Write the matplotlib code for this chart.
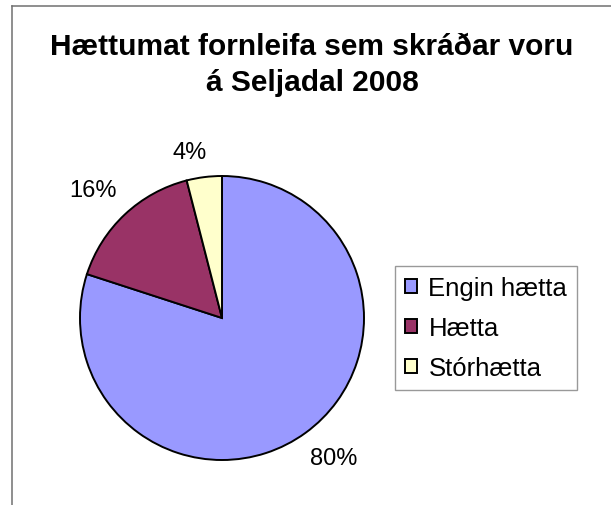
import numpy as np
import matplotlib
matplotlib.use("Agg")
import matplotlib.pyplot as plt
from matplotlib.lines import Line2D

plt.rcParams['font.family'] = ['Liberation Sans', 'DejaVu Sans']

#Data
categories = ["Engin hætta", "Hætta", "Stórhætta"]
shares = [80, 16, 4]
colors = ["#9999FF", "#993366", "#FFFFCC"]
title = "Hættumat fornleifa sem skráðar voru\ná Seljadal 2008"

#label placement (distance in radii, angle nudge in degrees)
label_dist = [1.26, 1.28, 1.19]
label_nudge = [2.7, 2.0, 3.8]

W, H = 611, 506
fig = plt.figure(figsize=(W / 100, H / 100), dpi=100)

#Chart frame (only top and left edges visible in the crop)
fig.add_artist(Line2D([11.5 / W, 1], [1 - 6.5 / H, 1 - 6.5 / H], color="#707070", lw=1.1))
fig.add_artist(Line2D([11.5 / W, 11.5 / W], [0, 1 - 6.5 / H], color="#707070", lw=1.1))

#Pie, centre (222,319) px, radius 142 px
cx, cy, r = 222, 319, 142
ax = fig.add_axes([(cx - r) / W, (H - cy - r) / H, 2 * r / W, 2 * r / H])
wedges, texts = ax.pie(shares, colors=colors, startangle=90, counterclock=False,
                       wedgeprops=dict(edgecolor="black", linewidth=1.4))
ax.set_xlim(-1, 1)
ax.set_ylim(-1, 1)
ax.axis("off")

for w, v, d, n in zip(wedges, shares, label_dist, label_nudge):
    ang = np.deg2rad((w.theta1 + w.theta2) / 2 + n)
    ax.text(d * np.cos(ang), d * np.sin(ang), "%d%%" % v, ha="center", va="center",
            fontsize=17, clip_on=False)

fig.text(312 / W, 1 - 65 / H, title, ha="center", va="center", multialignment="center",
         fontsize=21.5, fontweight="bold", linespacing=1.38)

leg = fig.legend(wedges, categories, loc="upper left",
                 bbox_to_anchor=(395 / W, 1 - 267 / H), borderaxespad=0,
                 fontsize=18.5, frameon=True, fancybox=False, edgecolor="#808080",
                 handlelength=0.45, handleheight=0.45, handletextpad=0.45,
                 labelspacing=0.62, borderpad=0.4)
leg.get_frame().set_linewidth(1.0)

fig.savefig("out.png", dpi=100)
